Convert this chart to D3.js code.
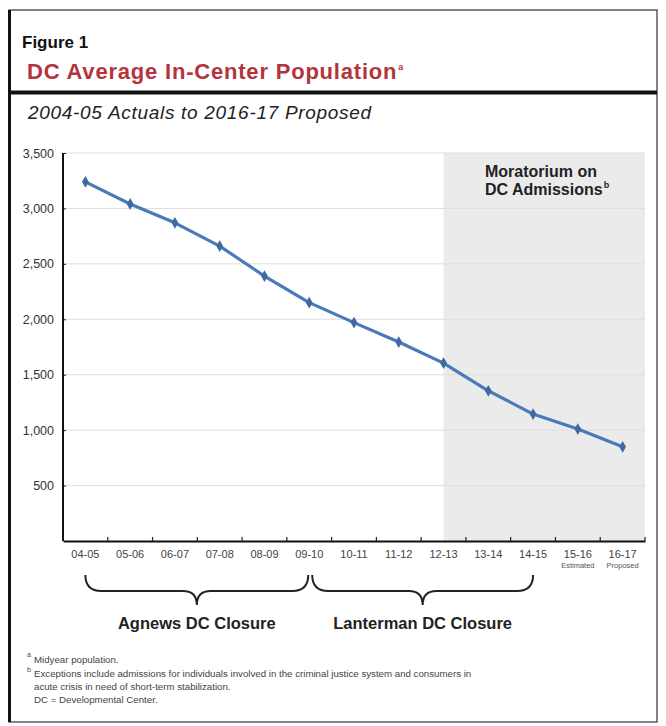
<!DOCTYPE html>
<html>
<head>
<meta charset="utf-8">
<script src="https://cdn.jsdelivr.net/npm/d3@7"></script>
<style>
  body { margin: 0; background: #fff; }
  svg { display: block; font-family: "Liberation Sans", Arial, sans-serif; }
</style>
</head>
<body>
<div id="chart"></div>
<script>
// data
var years = ["04-05", "05-06", "06-07", "07-08", "08-09", "09-10", "10-11",
             "11-12", "12-13", "13-14", "14-15", "15-16", "16-17"];
var subLabels = ["", "", "", "", "", "", "", "", "", "", "", "Estimated", "Proposed"];
var population = [3240, 3040, 2870, 2660, 2390, 2150, 1970, 1795, 1605, 1355, 1145, 1010, 850];
var yTicks = [500, 1000, 1500, 2000, 2500, 3000, 3500];
var closures = [["Agnews DC Closure", "04-05", "09-10"], ["Lanterman DC Closure", "09-10", "14-15"]];
var moratoriumFrom = "12-13";

var width = 666, height = 726;
var svg = d3.select("#chart").append("svg")
    .attr("width", width)
    .attr("height", height);

// frame
svg.append("rect").attr("x", 9).attr("y", 10).attr("width", 648).attr("height", 712)
    .attr("fill", "none").attr("stroke", "#333").attr("stroke-width", 1.2);
svg.append("line").attr("x1", 9.5).attr("x2", 9.5).attr("y1", 10).attr("y2", 722)
    .attr("stroke", "#111").attr("stroke-width", 3);

svg.append("text").attr("x", 22).attr("y", 48)
    .attr("font-size", 17).attr("font-weight", "bold").attr("fill", "#111")
    .text("Figure 1");
var title = svg.append("text").attr("x", 27).attr("y", 79)
    .attr("font-size", 22).attr("font-weight", "bold").attr("fill", "#b3343c")
    .attr("letter-spacing", 0.8)
    .text("DC Average In-Center Population");
title.append("tspan").attr("font-size", 9).attr("dy", -9).attr("dx", 1).text("a");
svg.append("line").attr("x1", 9).attr("x2", 657).attr("y1", 92.5).attr("y2", 92.5)
    .attr("stroke", "#111").attr("stroke-width", 4);
svg.append("text").attr("x", 28).attr("y", 119)
    .attr("font-size", 19).attr("font-style", "italic").attr("fill", "#222")
    .attr("letter-spacing", 0.7)
    .text("2004-05 Actuals to 2016-17 Proposed");

var x = d3.scaleBand().domain(years).range([63, 645]);
var y = d3.scaleLinear().domain([0, 3500]).range([541, 153]);

// shaded moratorium area
svg.append("rect")
    .attr("x", x(moratoriumFrom) + x.bandwidth() / 2)
    .attr("y", y(3500))
    .attr("width", x.range()[1] - x(moratoriumFrom) - x.bandwidth() / 2)
    .attr("height", y(0) - y(3500))
    .attr("fill", "#ebebeb");

// gridlines
svg.append("g").selectAll("line").data(yTicks).enter().append("line")
    .attr("x1", 63).attr("x2", 645)
    .attr("y1", function(d) { return y(d); })
    .attr("y2", function(d) { return y(d); })
    .attr("stroke", "#dedede").attr("stroke-width", 1);

var yAxis = svg.append("g").attr("transform", "translate(63,0)")
    .call(d3.axisLeft(y).tickValues(yTicks).tickSize(3).tickFormat(d3.format(",")));
yAxis.select(".domain").attr("stroke", "#111").attr("stroke-width", 2).attr("d", "M0,541V153");
yAxis.selectAll(".tick line").attr("x2", 3).attr("stroke", "#222");
yAxis.selectAll("text").attr("font-size", 12.5).attr("fill", "#333").attr("x", -9)
    .attr("font-family", "Liberation Sans, Arial, sans-serif");

var xAxis = svg.append("g").attr("transform", "translate(0,541)")
    .call(d3.axisBottom(x).tickSize(0).tickFormat(function(d) { return d; }));
xAxis.select(".domain").attr("stroke", "#111").attr("stroke-width", 2);
xAxis.selectAll(".tick text").attr("font-size", 11).attr("fill", "#444").attr("dy", 0).attr("y", 17)
    .attr("font-family", "Liberation Sans, Arial, sans-serif");
// boundary ticks between categories
svg.append("g").selectAll("line").data(years).enter().append("line")
    .attr("x1", function(d) { return x(d) + x.bandwidth(); })
    .attr("x2", function(d) { return x(d) + x.bandwidth(); })
    .attr("y1", 541).attr("y2", 537)
    .attr("stroke", "#222").attr("stroke-width", 1.2);
svg.append("g").selectAll("text").data(subLabels).enter().append("text")
    .attr("x", function(d, i) { return x(years[i]) + x.bandwidth() / 2; })
    .attr("y", 568)
    .attr("text-anchor", "middle").attr("font-size", 7.5).attr("fill", "#555")
    .text(function(d) { return d; });

// line
var line = d3.line()
    .x(function(d, i) { return x(years[i]) + x.bandwidth() / 2; })
    .y(function(d) { return y(d); });
svg.append("path").datum(population)
    .attr("fill", "none").attr("stroke", "#4a7ab8").attr("stroke-width", 3.2)
    .attr("stroke-linejoin", "round")
    .attr("d", line);
svg.append("g").selectAll("path").data(population).enter().append("path")
    .attr("transform", function(d, i) {
        return "translate(" + (x(years[i]) + x.bandwidth() / 2) + "," + y(d) + ")";
    })
    .attr("d", d3.symbol().type(d3.symbolDiamond).size(40))
    .attr("fill", "#3d6aa3");

// moratorium label
svg.append("text").attr("x", 485).attr("y", 177)
    .attr("font-size", 16).attr("font-weight", "bold").attr("fill", "#222")
    .text("Moratorium on");
var ml = svg.append("text").attr("x", 485).attr("y", 195)
    .attr("font-size", 16).attr("font-weight", "bold").attr("fill", "#222")
    .text("DC Admissions");
ml.append("tspan").attr("font-size", 9).attr("dy", -7).attr("dx", 1).text("b");

// braces
function brace(x1, x2) {
    var mid = (x1 + x2) / 2, top = 575, bar = 591, tip = 605;
    return "M" + x1 + "," + top +
        "Q" + x1 + "," + bar + " " + (x1 + 16) + "," + bar +
        "L" + (mid - 14) + "," + bar +
        "Q" + mid + "," + bar + " " + mid + "," + tip +
        "Q" + mid + "," + bar + " " + (mid + 14) + "," + bar +
        "L" + (x2 - 16) + "," + bar +
        "Q" + x2 + "," + bar + " " + x2 + "," + top;
}
closures.forEach(function(c, k) {
    var x1 = x(c[1]) + x.bandwidth() / 2 + (k === 1 ? 3 : 0);
    var x2 = x(c[2]) + x.bandwidth() / 2 - (k === 0 ? 1 : 0);
    svg.append("path").attr("d", brace(x1, x2))
        .attr("fill", "none").attr("stroke", "#222").attr("stroke-width", 2);
    svg.append("text").attr("x", (x1 + x2) / 2).attr("y", 629).attr("text-anchor", "middle")
        .attr("font-size", 16.5).attr("font-weight", "bold").attr("fill", "#222")
        .text(c[0]);
});

// footnotes
var notes = svg.append("g").attr("font-size", 9.7).attr("fill", "#444");
notes.append("text").attr("x", 27).attr("y", 657).attr("font-size", 7).text("a");
notes.append("text").attr("x", 34).attr("y", 663).text("Midyear population.");
notes.append("text").attr("x", 27).attr("y", 672).attr("font-size", 7).text("b");
notes.append("text").attr("x", 34).attr("y", 677)
    .text("Exceptions include admissions for individuals involved in the criminal justice system and consumers in");
notes.append("text").attr("x", 34).attr("y", 690).text("acute crisis in need of short-term stabilization.");
notes.append("text").attr("x", 34).attr("y", 703).text("DC = Developmental Center.");
</script>
</body>
</html>
